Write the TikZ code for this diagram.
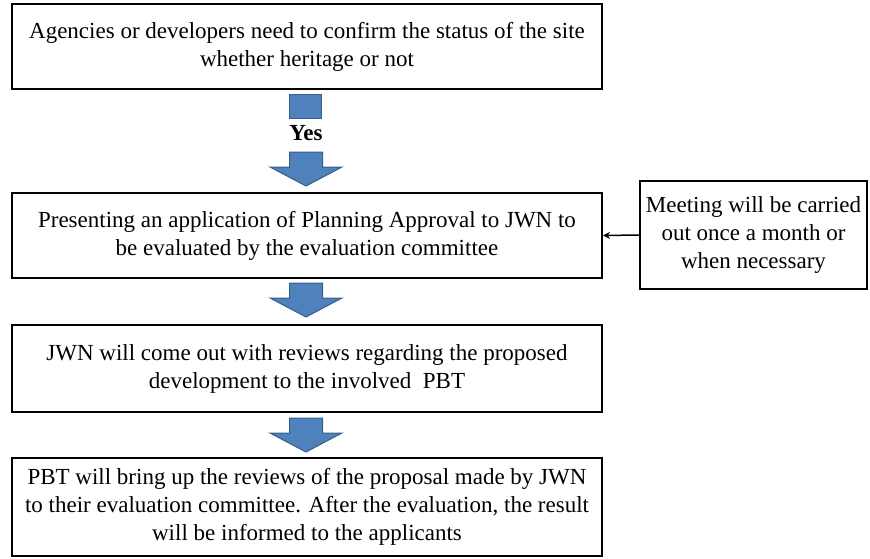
\documentclass[tikz,border=0pt]{standalone}
\usepackage{fontspec}
\setmainfont{LiberationSerif}[Extension=.ttf, UprightFont=*-Regular, BoldFont=*-Bold]
\usetikzlibrary{arrows.meta}
\definecolor{arrowblue}{HTML}{4F81BD}
\definecolor{arrowedge}{HTML}{385D8A}
\tikzset{
  stepbox/.style={draw, line width=2pt, align=center, inner sep=0pt,
    font=\fontsize{23}{28}\selectfont},
  blockfill/.style={fill=arrowblue, draw=arrowedge, line width=1pt},
  downarrow/.pic={\draw[blockfill] (-16.5,0) -- (-16.5,15) -- (-36,15) -- (0,34)
    -- (36,15) -- (16.5,15) -- (16.5,0) -- cycle;}
}
\begin{document}
\begin{tikzpicture}[x=1pt, y=-1pt]
\useasboundingbox (0,0) rectangle (870,558);
\node[stepbox, minimum width=590pt, minimum height=85pt] (status) at (307,46.5)
  {Agencies or developers need to confirm the status of the site\\whether heritage or not};
\node[stepbox, minimum width=590pt, minimum height=85pt] (apply) at (307,235.5)
  {Presenting an application of Planning Approval to JWN to\\be evaluated by the evaluation committee};
\node[stepbox, minimum width=590pt, minimum height=87pt] (review) at (307,368.5)
  {JWN will come out with reviews regarding the proposed\\development to the involved\ \ PBT};
\node[stepbox, minimum width=590pt, minimum height=98pt] (inform) at (307,507)
  {PBT will bring up the reviews of the proposal made by JWN\\to their evaluation committee. After the evaluation, the result\\will be informed to the applicants};
\node[stepbox, minimum width=227pt, minimum height=108pt] (meeting) at (753.5,235)
  {Meeting will be carried\\out once a month or\\when necessary};
\draw[line width=1.5pt, -{Stealth[length=7pt, width=7pt]}] (meeting.west) -- (apply.east);
% yes branch
\draw[blockfill] (289,94) rectangle (321,118);
\node[font=\fontsize{23}{28}\selectfont\bfseries] (yes) at (306,133) {Yes};
\pic at (306,152) {downarrow};
\pic at (306,283) {downarrow};
\pic at (306,418) {downarrow};
\end{tikzpicture}
\end{document}
